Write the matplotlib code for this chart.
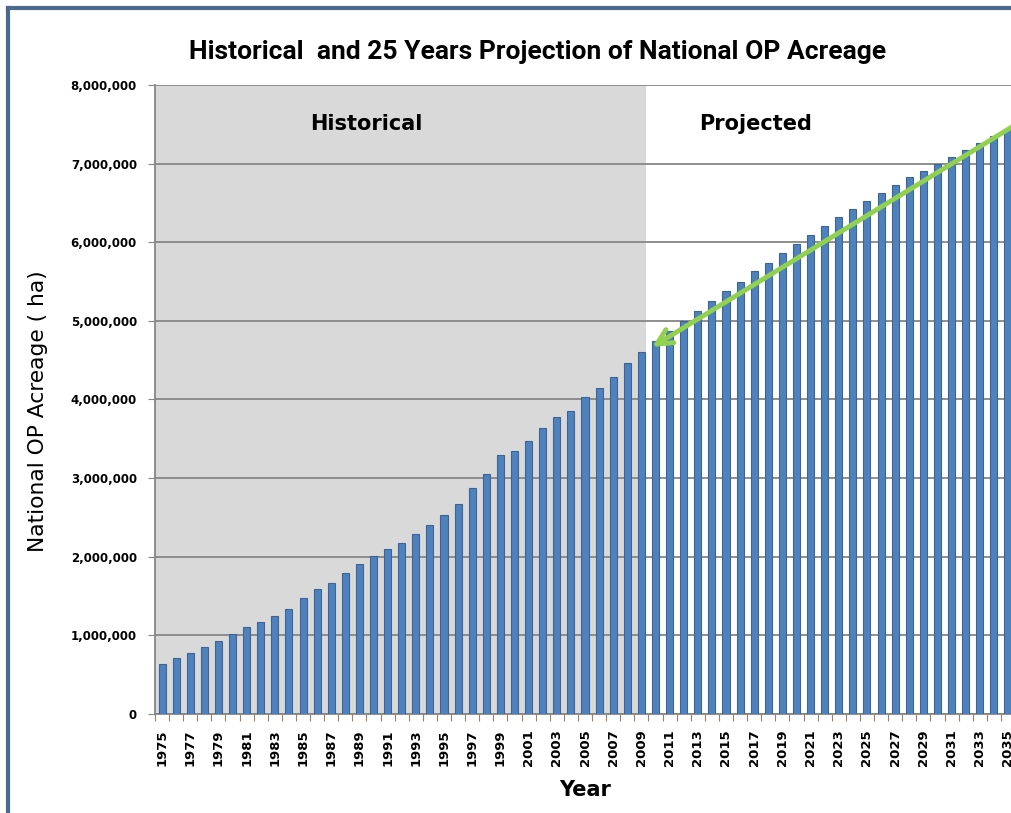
import numpy as np
import matplotlib
matplotlib.use("Agg")
import matplotlib.pyplot as plt
from matplotlib.ticker import FuncFormatter, MultipleLocator, FixedLocator

# National oil palm planted area, hectares (historical to 2009, projected after)
years = list(range(1975, 2036))
acreage = [
    640000, 710000, 780000, 850000, 930000, 1020000, 1110000, 1170000, 1250000, 1330000,
    1480000, 1590000, 1660000, 1790000, 1910000, 2010000, 2100000, 2180000, 2290000, 2400000,
    2530000, 2670000, 2870000, 3050000, 3300000, 3350000, 3470000, 3640000, 3780000, 3850000,
    4030000, 4150000, 4280000, 4470000, 4610000, 4740000, 4870000, 5000000, 5120000, 5250000,
    5380000, 5500000, 5630000, 5740000, 5860000, 5980000, 6090000, 6210000, 6320000, 6420000,
    6530000, 6630000, 6730000, 6830000, 6910000, 7000000, 7090000, 7170000, 7260000, 7350000,
    7430000,
]
last_historical = 2009
tick_years = years[::2]

W, H = 1011, 813
fig = plt.figure(figsize=(W / 100, H / 100), dpi=100)
fig.patch.set_facecolor("white")

# axes in pixel terms: left 155, right 1015 (runs off the canvas), top 85, bottom 714
ax = fig.add_axes([155 / W, 1 - 714 / H, (1015 - 155) / W, (714 - 85) / H])
ax.set_facecolor("white")

ax.axvspan(1974.5, last_historical + 0.3, color="#d9d9d9", zorder=0, lw=0)
ax.bar(years, acreage, width=0.5, color="#4f81bd", edgecolor="#3b6597",
       linewidth=0.8, zorder=3)

ax.set_xlim(1974.5, 2035.5)
ax.set_ylim(0, 8000000)
ax.yaxis.set_major_locator(MultipleLocator(1000000))
ax.yaxis.set_major_formatter(FuncFormatter(lambda v, p: f"{int(v):,}"))
ax.grid(axis="y", color="#868686", lw=1.3, zorder=1)
ax.set_axisbelow(True)

ax.xaxis.set_major_locator(FixedLocator(tick_years))
ax.xaxis.set_minor_locator(FixedLocator(np.arange(1974.5, 2036, 1)))
ax.set_xticklabels([str(y) for y in tick_years], rotation=90,
                   fontsize=9.5, fontweight="bold")
ax.tick_params(axis="x", which="major", length=0, pad=11)
ax.tick_params(axis="x", which="minor", length=5, color="#a08060", width=0.8)
ax.tick_params(axis="y", length=5, color="#868686", labelsize=8.5, pad=8)
for lbl in ax.get_yticklabels():
    lbl.set_fontweight("bold")

for side in ("top", "right"):
    ax.spines[side].set_visible(False)
for side in ("left", "bottom"):
    ax.spines[side].set_color("#868686")
    ax.spines[side].set_linewidth(1.3)

ax.set_ylabel("National OP Acreage ( ha)", fontsize=15.7, labelpad=16)
ax.yaxis.label.set_y(0.482)
ax.set_xlabel("Year", fontsize=15, fontweight="bold", labelpad=10)

ax.text(1989.5, 7500000, "Historical", fontsize=15, fontweight="bold",
        ha="center", va="center", zorder=4)
ax.text(2017.1, 7500000, "Projected", fontsize=15, fontweight="bold",
        ha="center", va="center", zorder=4)

# trend arrow pointing back to the end of the historical series
ax.annotate("", xy=(2009.6, 4650000), xytext=(2036.5, 7600000),
            arrowprops=dict(arrowstyle="->,head_length=1.1,head_width=0.55",
                            color="#92d050", lw=3.5),
            zorder=5, annotation_clip=False)

fig.text(538 / W, 1 - 52 / H,
         "Historical  and 25 Years Projection of National OP Acreage",
         ha="center", va="center", fontsize=19, fontweight="bold",
         family=["Roboto", "DejaVu Sans"])

# outer chart frame
fig.add_artist(plt.Line2D([8 / W, 8 / W], [0, 1 - 8 / H], color="#4a6a8c",
                          lw=3, transform=fig.transFigure))
fig.add_artist(plt.Line2D([8 / W, 1], [1 - 8 / H, 1 - 8 / H], color="#4a6a8c",
                          lw=3, transform=fig.transFigure))

fig.savefig("out.png", dpi=100)
